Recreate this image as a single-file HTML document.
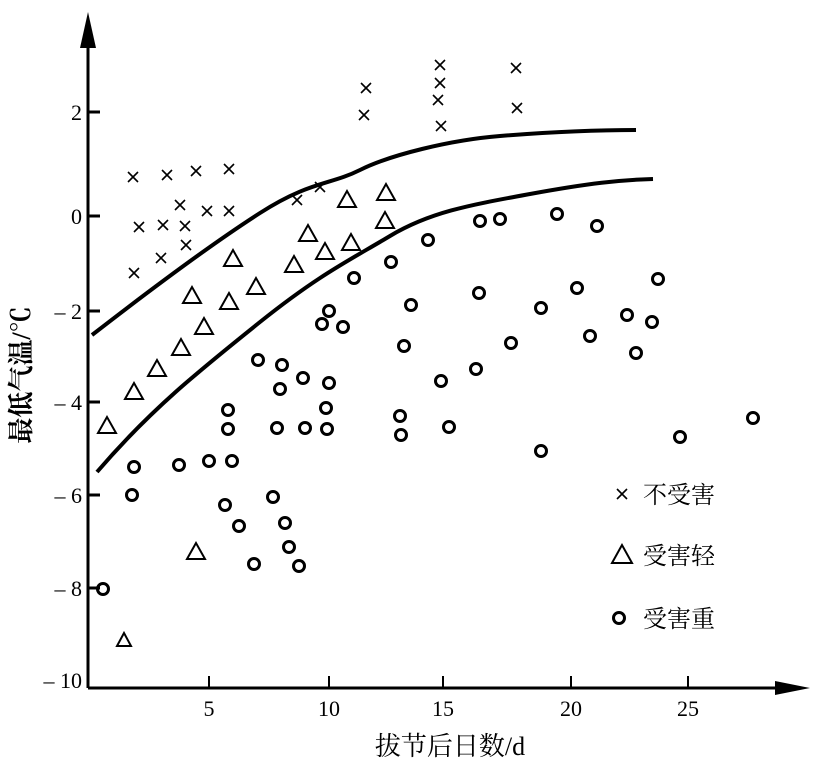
<!DOCTYPE html>
<html><head><meta charset="utf-8"><style>body{margin:0;background:#fff}</style></head><body>
<svg width="813" height="772" viewBox="0 0 813 772" xmlns="http://www.w3.org/2000/svg" font-family="'Liberation Serif','Noto Serif CJK SC',serif">
<rect width="813" height="772" fill="#fff"/>
<g stroke="#000" stroke-width="3" fill="none">
<line x1="88" y1="30" x2="88" y2="688"/>
<line x1="88" y1="688" x2="790" y2="688"/>
<line x1="88" y1="112" x2="100" y2="112"/><line x1="88" y1="216" x2="100" y2="216"/><line x1="88" y1="311" x2="100" y2="311"/><line x1="88" y1="402" x2="100" y2="402"/><line x1="88" y1="495" x2="100" y2="495"/><line x1="88" y1="588" x2="100" y2="588"/>
<g stroke-width="2"><line x1="209" y1="676" x2="209" y2="688"/><line x1="329" y1="676" x2="329" y2="688"/><line x1="443" y1="676" x2="443" y2="688"/><line x1="571" y1="676" x2="571" y2="688"/><line x1="688" y1="676" x2="688" y2="688"/></g>
<path d="M92,335 C150,290 210,245 260,213 S330,185 360,170 S450,140 500,136 S600,130 636,130" stroke-width="4"/>
<path d="M97,472 C150,410 200,370 260,322 S350,260 390,236 S470,205 530,194 S620,180 653,179" stroke-width="4"/>
</g>
<polygon points="88,12 80,48 96,48" fill="#000"/>
<polygon points="810,688 775,681 775,695" fill="#000"/>
<g font-size="22" text-anchor="end">
<text x="82" y="120">2</text><text x="82" y="224">0</text><text x="82" y="319">– 2</text><text x="82" y="410">– 4</text><text x="82" y="503">– 6</text><text x="82" y="596">– 8</text><text x="82" y="688">– 10</text>
</g>
<g font-size="22" text-anchor="middle">
<text x="209" y="716">5</text><text x="329" y="716">10</text><text x="443" y="716">15</text><text x="571" y="716">20</text><text x="688" y="716">25</text>
</g>
<text x="450" y="755" font-size="26" text-anchor="middle">拔节后日数/d</text>
<text transform="translate(30,375) rotate(-90)" font-size="26" text-anchor="middle" font-weight="bold">最低气温/℃</text>
<g stroke="#000" stroke-width="1.6" id="xs">
<path d="M128,172l10,10M138,172l-10,10M134,222l10,10M144,222l-10,10M162,170l10,10M172,170l-10,10M158,220l10,10M168,220l-10,10M191,166l10,10M201,166l-10,10M175,200l10,10M185,200l-10,10M180,221l10,10M190,221l-10,10M181,240l10,10M191,240l-10,10M202,206l10,10M212,206l-10,10M224,164l10,10M234,164l-10,10M224,206l10,10M234,206l-10,10M156,253l10,10M166,253l-10,10M129,268l10,10M139,268l-10,10M292,195l10,10M302,195l-10,10M315,182l10,10M325,182l-10,10M361,83l10,10M371,83l-10,10M359,110l10,10M369,110l-10,10M435,60l10,10M445,60l-10,10M435,78l10,10M445,78l-10,10M433,95l10,10M443,95l-10,10M436,121l10,10M446,121l-10,10M511,63l10,10M521,63l-10,10M512,103l10,10M522,103l-10,10M617,489l10,10M627,489l-10,10"/>
</g>
<g stroke="#000" stroke-width="2" fill="none">
<path d="M107,417l-9,16h18zM134,383l-9,16h18zM157,360l-9,16h18zM181,339l-9,16h18zM204,318l-9,16h18zM229,293l-9,16h18zM192,287l-9,16h18zM256,278l-9,16h18zM233,250l-9,16h18zM294,256l-9,16h18zM325,243l-9,16h18zM308,225l-9,16h18zM351,234l-9,16h18zM347,191l-9,16h18zM385,212l-9,16h18zM386,184l-9,16h18zM196,543l-9,16h18zM124,633l-7,13h14zM622,545l-10,18h20z"/>
</g>
<g stroke="#000" stroke-width="3" fill="none">
<circle cx="103" cy="589" r="5.5"/><circle cx="134" cy="467" r="5.5"/><circle cx="132" cy="495" r="5.5"/><circle cx="179" cy="465" r="5.5"/><circle cx="209" cy="461" r="5.5"/><circle cx="228" cy="410" r="5.5"/><circle cx="228" cy="429" r="5.5"/><circle cx="232" cy="461" r="5.5"/><circle cx="225" cy="505" r="5.5"/><circle cx="239" cy="526" r="5.5"/><circle cx="254" cy="564" r="5.5"/><circle cx="273" cy="497" r="5.5"/><circle cx="285" cy="523" r="5.5"/><circle cx="289" cy="547" r="5.5"/><circle cx="299" cy="566" r="5.5"/><circle cx="258" cy="360" r="5.5"/><circle cx="282" cy="365" r="5.5"/><circle cx="280" cy="389" r="5.5"/><circle cx="277" cy="428" r="5.5"/><circle cx="303" cy="378" r="5.5"/><circle cx="305" cy="428" r="5.5"/><circle cx="329" cy="383" r="5.5"/><circle cx="326" cy="408" r="5.5"/><circle cx="327" cy="429" r="5.5"/><circle cx="322" cy="324" r="5.5"/><circle cx="329" cy="311" r="5.5"/><circle cx="343" cy="327" r="5.5"/><circle cx="354" cy="278" r="5.5"/><circle cx="391" cy="262" r="5.5"/><circle cx="404" cy="346" r="5.5"/><circle cx="411" cy="305" r="5.5"/><circle cx="400" cy="416" r="5.5"/><circle cx="401" cy="435" r="5.5"/><circle cx="449" cy="427" r="5.5"/><circle cx="441" cy="381" r="5.5"/><circle cx="428" cy="240" r="5.5"/><circle cx="480" cy="221" r="5.5"/><circle cx="500" cy="219" r="5.5"/><circle cx="476" cy="369" r="5.5"/><circle cx="479" cy="293" r="5.5"/><circle cx="511" cy="343" r="5.5"/><circle cx="541" cy="308" r="5.5"/><circle cx="541" cy="451" r="5.5"/><circle cx="557" cy="214" r="5.5"/><circle cx="577" cy="288" r="5.5"/><circle cx="590" cy="336" r="5.5"/><circle cx="597" cy="226" r="5.5"/><circle cx="627" cy="315" r="5.5"/><circle cx="636" cy="353" r="5.5"/><circle cx="652" cy="322" r="5.5"/><circle cx="658" cy="279" r="5.5"/><circle cx="680" cy="437" r="5.5"/><circle cx="753" cy="418" r="5.5"/><circle cx="619" cy="618" r="5.5"/>
</g>
<g font-size="24">
<text x="643" y="503">不受害</text><text x="643" y="564">受害轻</text><text x="643" y="627">受害重</text>
</g>
</svg>
</body></html>
